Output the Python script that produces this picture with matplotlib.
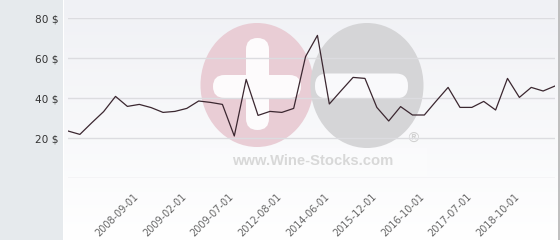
import matplotlib
matplotlib.use("Agg")
import matplotlib.pyplot as plt
import numpy as np
from matplotlib.patches import Rectangle, Ellipse, FancyBboxPatch
from matplotlib.transforms import ScaledTranslation

# ---- data ----
prices = [23.5, 21.8, 27.6, 33.2, 40.8, 35.8, 36.8, 35.2, 32.8, 33.3,
          34.8, 38.5, 37.8, 36.8, 21.0, 49.3, 31.3, 33.3, 32.8, 34.8,
          60.7, 71.3, 37.0, 43.7, 50.3, 49.8, 35.3, 28.5, 35.7, 31.5,
          31.5, 38.5, 45.3, 35.3, 35.3, 38.3, 34.0, 49.8, 40.3, 45.3,
          43.5, 46.0]
tick_labels = ["2008-09-01", "2009-02-01", "2009-07-01", "2012-08-01",
               "2014-06-01", "2015-12-01", "2016-10-01", "2017-07-01",
               "2018-10-01"]
tick_first, tick_step = 6, 4
y_values = [0, 20, 40, 60, 80]
y_labels = ["", "20 $", "40 $", "60 $", "80 $"]

W, H = 560, 240
fig = plt.figure(figsize=(W / 100, H / 100), dpi=100)

# ---- background (pixel coordinates) ----
bg = fig.add_axes([0, 0, 1, 1])
bg.set_xlim(0, W)
bg.set_ylim(H, 0)
bg.axis("off")
grad = np.linspace(0, 1, 256)[:, None]
top = np.array([0xf0, 0xf1, 0xf5]) / 255
bot = np.array([1.0, 1.0, 1.0])
img = top[None, None, :] * (1 - grad[..., None]) + bot[None, None, :] * grad[..., None]
bg.imshow(img, extent=(63, W, H, 0), aspect="auto", zorder=0)
bg.add_patch(Rectangle((0, 0), 62.5, H, facecolor="#e6eaed", edgecolor="none", zorder=1))
bg.add_patch(Rectangle((62.5, 0), 1.5, H, facecolor="white", edgecolor="none", zorder=1))
bg.plot([558.5, 558.5], [0, H], color="#b4b4b4", lw=1.2, zorder=5)

# watermark
bg.add_patch(Ellipse((257, 85), 113, 124, facecolor="#e9cdd5", edgecolor="none", zorder=2))
bg.add_patch(FancyBboxPatch((246 + 11.5, 38 + 11.5), 23 - 23, 92 - 23,
                            boxstyle="round,pad=11.5", facecolor="#fdfbfc",
                            edgecolor="none", zorder=2.1))
bg.add_patch(FancyBboxPatch((213 + 11.5, 75 + 11.5), 88 - 23, 23 - 23,
                            boxstyle="round,pad=11.5", facecolor="#fdfbfc",
                            edgecolor="none", zorder=2.1))
bg.add_patch(Ellipse((367, 85.5), 113, 125, facecolor="#d5d5d7", edgecolor="none", zorder=2.2))
bg.add_patch(FancyBboxPatch((315 + 12, 73.5 + 12), 93 - 24, 25 - 24,
                            boxstyle="round,pad=12", facecolor="#f9f9fb",
                            edgecolor="none", zorder=2.3))
bg.add_patch(Rectangle((200, 148), 227, 28, facecolor="white", alpha=0.3,
                       edgecolor="none", zorder=2.4))
bg.text(312.5, 161, "www.Wine-Stocks.com", family="Liberation Sans", weight="bold",
        fontsize=10.6, color="#d8d8d8", ha="center", va="center", zorder=2.5)
bg.text(413, 139, "\u00ae", family="DejaVu Sans", fontsize=10, color="#d0d0d0",
        ha="center", va="center", zorder=2.5)

# ---- main axes ----
ax_left, ax_right = 68, 555
ax_top, ax_bot = 18, 178
ax = fig.add_axes([ax_left / W, 1 - ax_bot / H, (ax_right - ax_left) / W, (ax_bot - ax_top) / H])
ax.patch.set_alpha(0)
x = np.arange(len(prices))
ax.plot(x, prices, color="#3b2730", lw=0.9, zorder=3)
ax.set_xlim(0, len(prices) - 1)
ax.set_ylim(0, 80)
ax.set_yticks(y_values)
ax.set_yticklabels(y_labels)
ax.yaxis.grid(True, color="#dcdce0", lw=1)
ax.set_axisbelow(True)
for s in ax.spines.values():
    s.set_visible(False)
ax.tick_params(axis="y", length=0, pad=6.5, labelsize=7.6, labelcolor="#333333")

ticks = list(range(tick_first, len(prices), tick_step))[:len(tick_labels)]
ax.set_xticks(ticks)
ax.set_xticklabels(tick_labels, rotation=45, ha="right", va="center",
                   rotation_mode="anchor", fontsize=7, color="#666666")
ax.tick_params(axis="x", length=0, pad=12.5)
off = ScaledTranslation(-2 / 100, 0, fig.dpi_scale_trans)
for lab in ax.get_xticklabels():
    lab.set_transform(lab.get_transform() + off)

fig.savefig("out.png", dpi=100)
